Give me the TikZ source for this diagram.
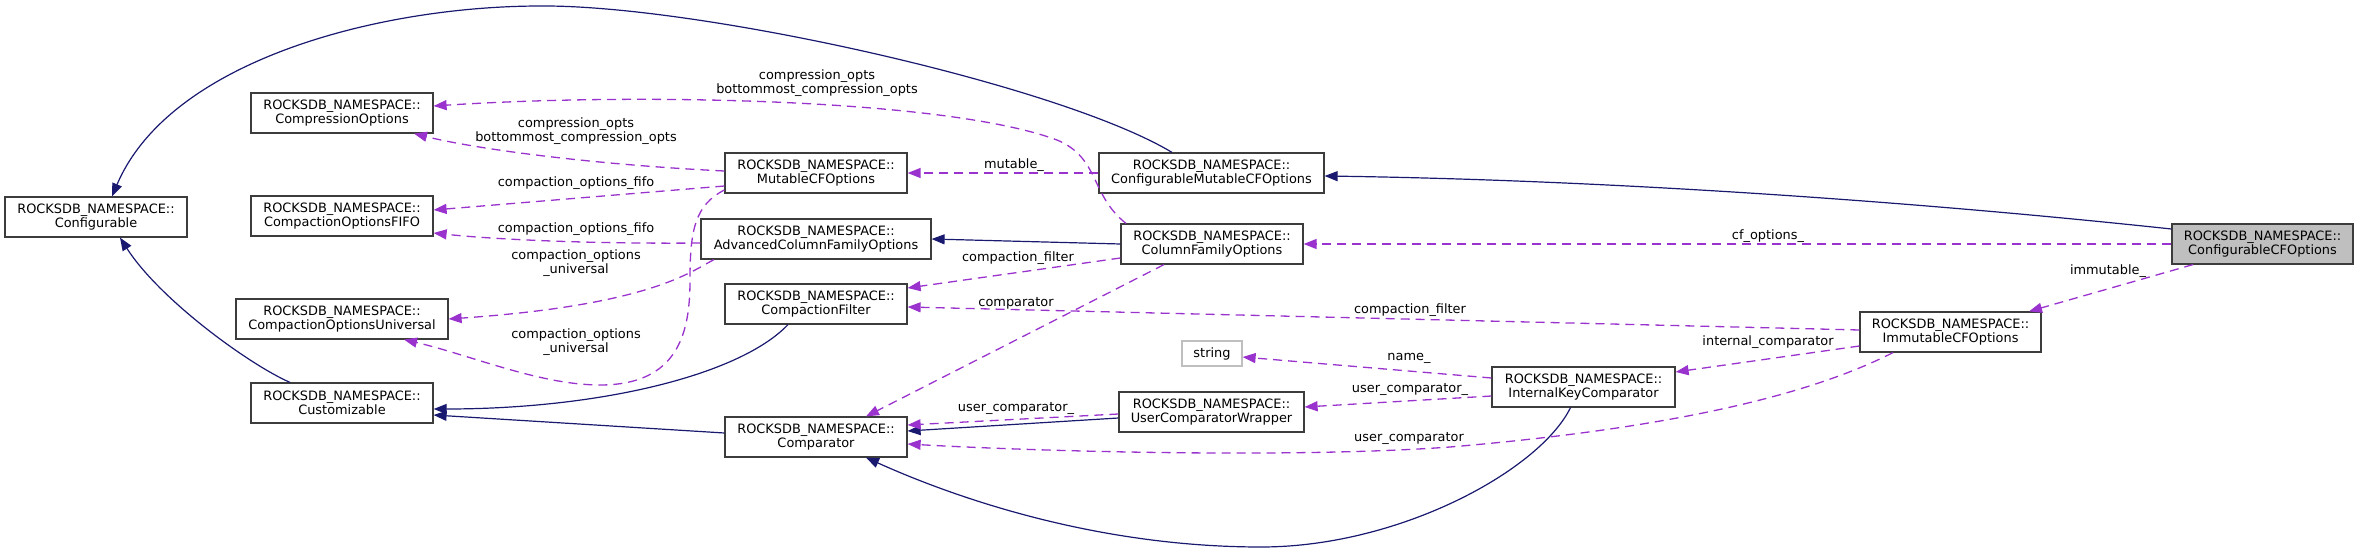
\documentclass[tikz,border=0pt]{standalone}
\usepackage{fontspec}
\setmainfont{DejaVu Sans}
\usepackage{tikz}
\usetikzlibrary{arrows.meta}
\definecolor{inhblue}{RGB}{25,25,112}
\definecolor{usepurple}{RGB}{154,50,205}
\definecolor{boxline}{RGB}{60,60,60}
\definecolor{greyfill}{RGB}{191,191,191}
\newcommand{\ns}{ROCKSDB\_NAMESPACE::}
\newcommand{\gfont}{\fontsize{12.9}{14.5}\selectfont}
\tikzset{
  cls/.style  ={draw=boxline, fill=white, line width=1.2pt, align=center,
                font=\gfont, inner sep=2pt, minimum height=40pt, minimum width=182pt},
  ext/.style  ={cls, draw=greyfill, minimum height=25pt, minimum width=60pt},
  inh/.style  ={-{Triangle[length=13pt,width=10pt]}, draw=inhblue, line width=1.2pt},
  usr/.style  ={-{Triangle[length=13pt,width=10pt]}, draw=usepurple, line width=1.3pt,
                dash pattern=on 9pt off 6pt},
  lbl/.style  ={font=\gfont, align=center, inner sep=0pt},
}
\begin{document}
\begin{tikzpicture}[x=1pt,y=-1pt]
\useasboundingbox (0,0) rectangle (2359,553);

% classes
\node[cls] (nCfg)   at (96,217)     {\ns\\Configurable};
\node[cls] (nCompr) at (342,113)    {\ns\\CompressionOptions};
\node[cls] (nFifo)  at (342,216)    {\ns\\CompactionOptionsFIFO};
\node[cls,minimum width=212pt] (nUniv) at (342,319) {\ns\\CompactionOptionsUniversal};
\node[cls] (nCust)  at (342,403)    {\ns\\Customizable};
\node[cls] (nMut)   at (816,173)    {\ns\\MutableCFOptions};
\node[cls,minimum width=230pt] (nAdv) at (816,239) {\ns\\AdvancedColumnFamilyOptions};
\node[cls] (nFilt)  at (816,304)    {\ns\\CompactionFilter};
\node[cls] (nCmp)   at (816,437)    {\ns\\Comparator};
\node[cls,minimum width=225pt] (nCMut) at (1211.5,173) {\ns\\ConfigurableMutableCFOptions};
\node[cls] (nCFO)   at (1212,244)   {\ns\\ColumnFamilyOptions};
\node[ext] (nStr)   at (1212,353.5) {string};
\node[cls,minimum width=185pt] (nUCW) at (1211.5,412) {\ns\\UserComparatorWrapper};
\node[cls,minimum width=183pt] (nIKC) at (1583.5,387) {\ns\\InternalKeyComparator};
\node[cls,minimum width=181pt] (nImm) at (1950.5,332) {\ns\\ImmutableCFOptions};
\node[cls,minimum width=181pt,fill=greyfill] (nCCF) at (2262.5,244) {\ns\\ConfigurableCFOptions};

% inheritance
\draw[inh] ([xshift=-39.5pt]nCMut.north) .. controls (1060,85) and (700,5) .. (541,6)
   .. controls (380,6) and (170,60) .. ([xshift=16pt]nCfg.north);
\draw[inh] ([yshift=15pt]nCCF.west) .. controls (1900,200) and (1600,180) .. ([yshift=-3pt]nCMut.east);
\draw[inh] (nCFO.west) -- (nAdv.east);
\draw[inh] ([xshift=-28pt]nFilt.south) .. controls (740,375) and (600,409) .. ([yshift=-6pt]nCust.east);
\draw[inh] ([yshift=4pt]nCmp.west) -- ([yshift=-12pt]nCust.east);
\draw[inh] ([xshift=-52pt]nCust.north) .. controls (250,365) and (160,300) .. ([xshift=24pt]nCfg.south);
\draw[inh] ([yshift=-6pt]nUCW.west) -- ([yshift=6pt]nCmp.east);
\draw[inh] ([xshift=-13pt]nIKC.south) .. controls (1540,470) and (1400,547) .. (1261,547)
   .. controls (1100,547) and (960,500) .. ([xshift=50pt]nCmp.south);

% members
\draw[usr] (nCCF.west) -- (nCFO.east);
\node[lbl] (lCfo) at (1768,236) {cf\_options\_};
\draw[usr] ([xshift=-69.5pt]nCCF.south) -- ([xshift=78.5pt]nImm.north);
\node[lbl] (lImm) at (2108,271) {immutable\_};
\draw[usr] (nCMut.west) -- (nMut.east);
\node[lbl] (lMut) at (1014,165) {mutable\_};
\draw[usr] ([xshift=-86pt]nCFO.north) .. controls (1090,195) and (1100,158) .. (1057,140)
   .. controls (950,100) and (650,92) .. ([yshift=7pt]nCompr.east);
\node[lbl] (lCompA) at (817,83) {compression\_opts\\bottommost\_compression\_opts};
\draw[usr] ([yshift=2pt]nMut.west) .. controls (600,165) and (480,150) .. ([xshift=72pt]nCompr.south);
\node[lbl] (lCompB) at (576,131) {compression\_opts\\bottommost\_compression\_opts};
\draw[usr] ([yshift=-13pt]nMut.west) -- ([yshift=6pt]nFifo.east);
\node[lbl] (lFifoA) at (576,183) {compaction\_options\_fifo};
\draw[usr] ([yshift=-4pt]nAdv.west) .. controls (600,244) and (500,240) .. ([yshift=-17pt]nFifo.east);
\node[lbl] (lFifoB) at (576,229) {compaction\_options\_fifo};
\draw[usr] ([xshift=-102pt]nAdv.south) .. controls (690,272) and (650,305) .. (nUniv.east);
\node[lbl] (lUnivA) at (576,263) {compaction\_options\\\_universal};
\draw[usr] ([yshift=-17pt]nMut.west) .. controls (695,205) and (690,230) .. (690,280)
   .. controls (690,330) and (680,385) .. (600,385)
   .. controls (540,385) and (470,355) .. ([xshift=62pt]nUniv.south);
\node[lbl] (lUnivB) at (576,342) {compaction\_options\\\_universal};
\draw[usr] ([yshift=-14pt]nCFO.west) -- ([yshift=16pt]nFilt.east);
\node[lbl] (lFiltA) at (1018,258) {compaction\_filter};
\draw[usr] ([xshift=-48pt]nCFO.south) -- ([xshift=50pt]nCmp.north);
\node[lbl] (lCmp) at (1016,303) {comparator};
\draw[usr] ([yshift=2pt]nImm.west) -- ([yshift=-3pt]nFilt.east);
\node[lbl] (lFiltB) at (1410,310) {compaction\_filter};
\draw[usr] ([yshift=-14pt]nImm.west) -- ([yshift=15pt]nIKC.east);
\node[lbl] (lIntc) at (1768,342) {internal\_comparator};
\draw[usr] ([xshift=-57.5pt]nImm.south) .. controls (1800,400) and (1650,430) .. (1450,447)
   .. controls (1300,458) and (1050,452) .. ([yshift=-7pt]nCmp.east);
\node[lbl] (lUcmpA) at (1409,438) {user\_comparator};
\draw[usr] ([yshift=9pt]nIKC.west) -- ([yshift=-3.5pt]nStr.east);
\node[lbl] (lName) at (1409,358) {name\_};
\draw[usr] ([yshift=-9pt]nIKC.west) -- ([yshift=5pt]nUCW.east);
\node[lbl] (lUcmpB) at (1410,389) {user\_comparator\_};
\draw[usr] ([yshift=-2pt]nUCW.west) -- ([yshift=12pt]nCmp.east);
\node[lbl] (lUcmpC) at (1016,408) {user\_comparator\_};
\end{tikzpicture}
\end{document}
